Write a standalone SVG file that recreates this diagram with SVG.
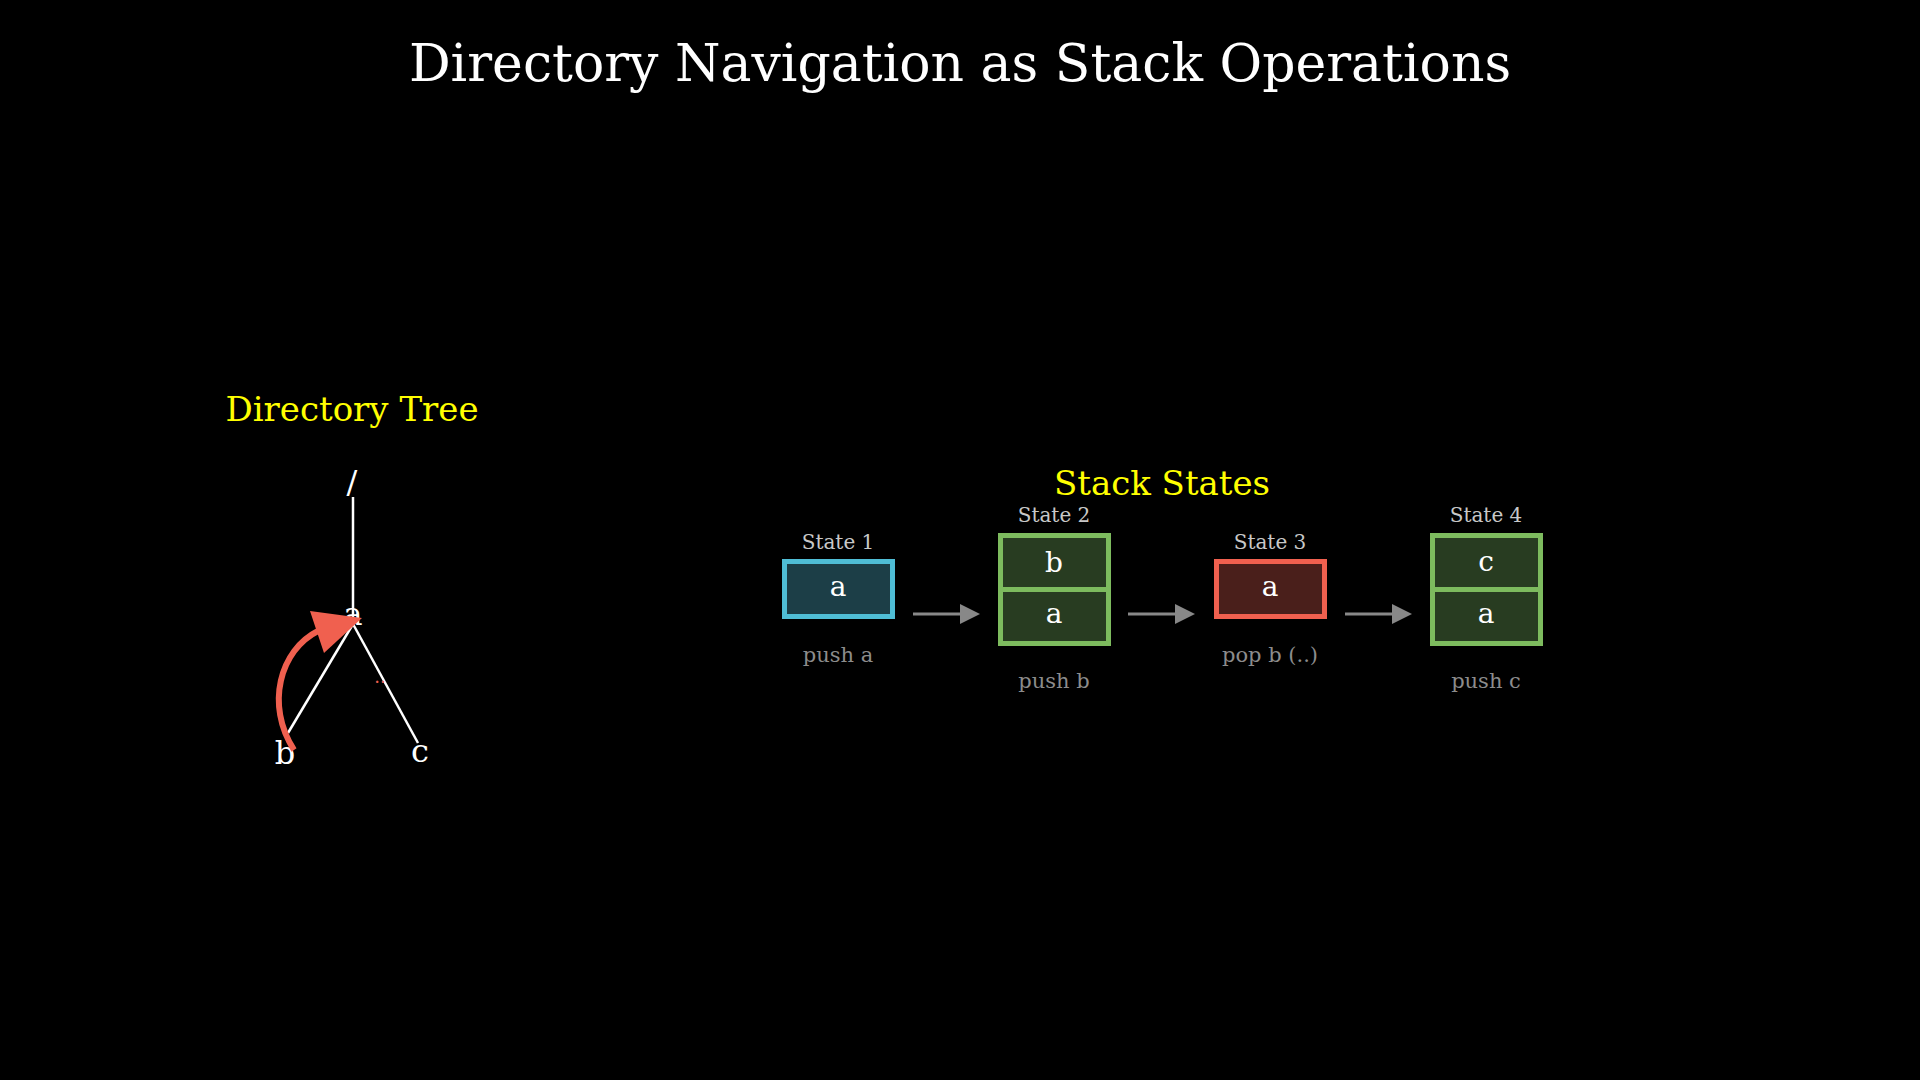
<svg xmlns="http://www.w3.org/2000/svg" width="1920" height="1080" viewBox="0 0 1920 1080">
  <style>
    text { font-family: "DejaVu Serif", "Liberation Serif", serif; text-anchor: middle; }
    .title { font-size: 52px; fill: #ffffff; }
    .section { font-size: 34px; fill: #ffff00; }
    .tree-label { font-size: 32px; fill: #ffffff; }
    .tree-edge { stroke: #ffffff; stroke-width: 2.5; fill: none; }
    .state-label { font-size: 20px; fill: #c8c8c8; }
    .op-label { font-size: 21px; fill: #8c8c8c; }
    .cell-text { font-size: 28px; fill: #ffffff; }
    .cell-blue { fill: #1c3e47; stroke: #4fbdd5; stroke-width: 5; }
    .cell-green { fill: #283c21; stroke: #7dbb5e; stroke-width: 5; }
    .cell-red { fill: #4a1f1b; stroke: #f0604f; stroke-width: 5; }
    .flow { stroke: #888888; stroke-width: 3; fill: none; }
    .flow-head { fill: #888888; }
    .back { stroke: #f0604f; stroke-width: 6; fill: none; }
    .back-head { fill: #f0604f; }
  </style>
  <rect x="0" y="0" width="1920" height="1080" fill="#000000"/>

  <text class="title" x="960" y="81">Directory Navigation as Stack Operations</text>
  <text class="section" x="352" y="421">Directory Tree</text>
  <text class="section" x="1162" y="495">Stack States</text>

  <g id="tree-nodes">
    <g id="node-root"><text class="tree-label" x="352" y="493">/</text></g>
    <g id="node-a"><text class="tree-label" x="353" y="625">a</text></g>
    <g id="node-b"><text class="tree-label" x="285" y="764">b</text></g>
    <g id="node-c"><text class="tree-label" x="420" y="762">c</text></g>
  </g>

  <g id="stack-states">
    <g id="state-1">
      <text class="state-label" x="838" y="549">State 1</text>
      <rect class="cell-blue" x="784.5" y="561.5" width="108" height="55"/>
      <text class="cell-text" x="838" y="596">a</text>
      <text class="op-label" x="838" y="662">push a</text>
    </g>
    <g id="state-2">
      <text class="state-label" x="1054" y="522">State 2</text>
      <rect class="cell-green" x="1000.5" y="535.5" width="108" height="54"/>
      <rect class="cell-green" x="1000.5" y="589.5" width="108" height="54"/>
      <text class="cell-text" x="1054" y="572">b</text>
      <text class="cell-text" x="1054" y="623">a</text>
      <text class="op-label" x="1054" y="688">push b</text>
    </g>
    <g id="state-3">
      <text class="state-label" x="1270" y="549">State 3</text>
      <rect class="cell-red" x="1216.5" y="561.5" width="108" height="55"/>
      <text class="cell-text" x="1270" y="596">a</text>
      <text class="op-label" x="1270" y="662">pop b (..)</text>
    </g>
    <g id="state-4">
      <text class="state-label" x="1486" y="522">State 4</text>
      <rect class="cell-green" x="1432.5" y="535.5" width="108" height="54"/>
      <rect class="cell-green" x="1432.5" y="589.5" width="108" height="54"/>
      <text class="cell-text" x="1486" y="571">c</text>
      <text class="cell-text" x="1486" y="623">a</text>
      <text class="op-label" x="1486" y="688">push c</text>
    </g>
  </g>

  <g id="connectors">
    <line class="tree-edge" x1="353" y1="497" x2="353" y2="617"/>
    <line class="tree-edge" x1="353" y1="624" x2="288" y2="733"/>
    <line class="tree-edge" x1="353" y1="624" x2="418" y2="743"/>

    <path class="back" d="M294 750 C265 705 280 650 318 631"/>
    <polygon class="back-head" points="362,618 310,611 324,653"/>
    <text x="380" y="683" font-size="18" fill="#f0604f">..</text>

    <line class="flow" x1="913" y1="614" x2="962" y2="614"/>
    <polygon class="flow-head" points="980,614 960,604 960,624"/>
    <line class="flow" x1="1128" y1="614" x2="1177" y2="614"/>
    <polygon class="flow-head" points="1195,614 1175,604 1175,624"/>
    <line class="flow" x1="1345" y1="614" x2="1394" y2="614"/>
    <polygon class="flow-head" points="1412,614 1392,604 1392,624"/>
  </g>
</svg>
